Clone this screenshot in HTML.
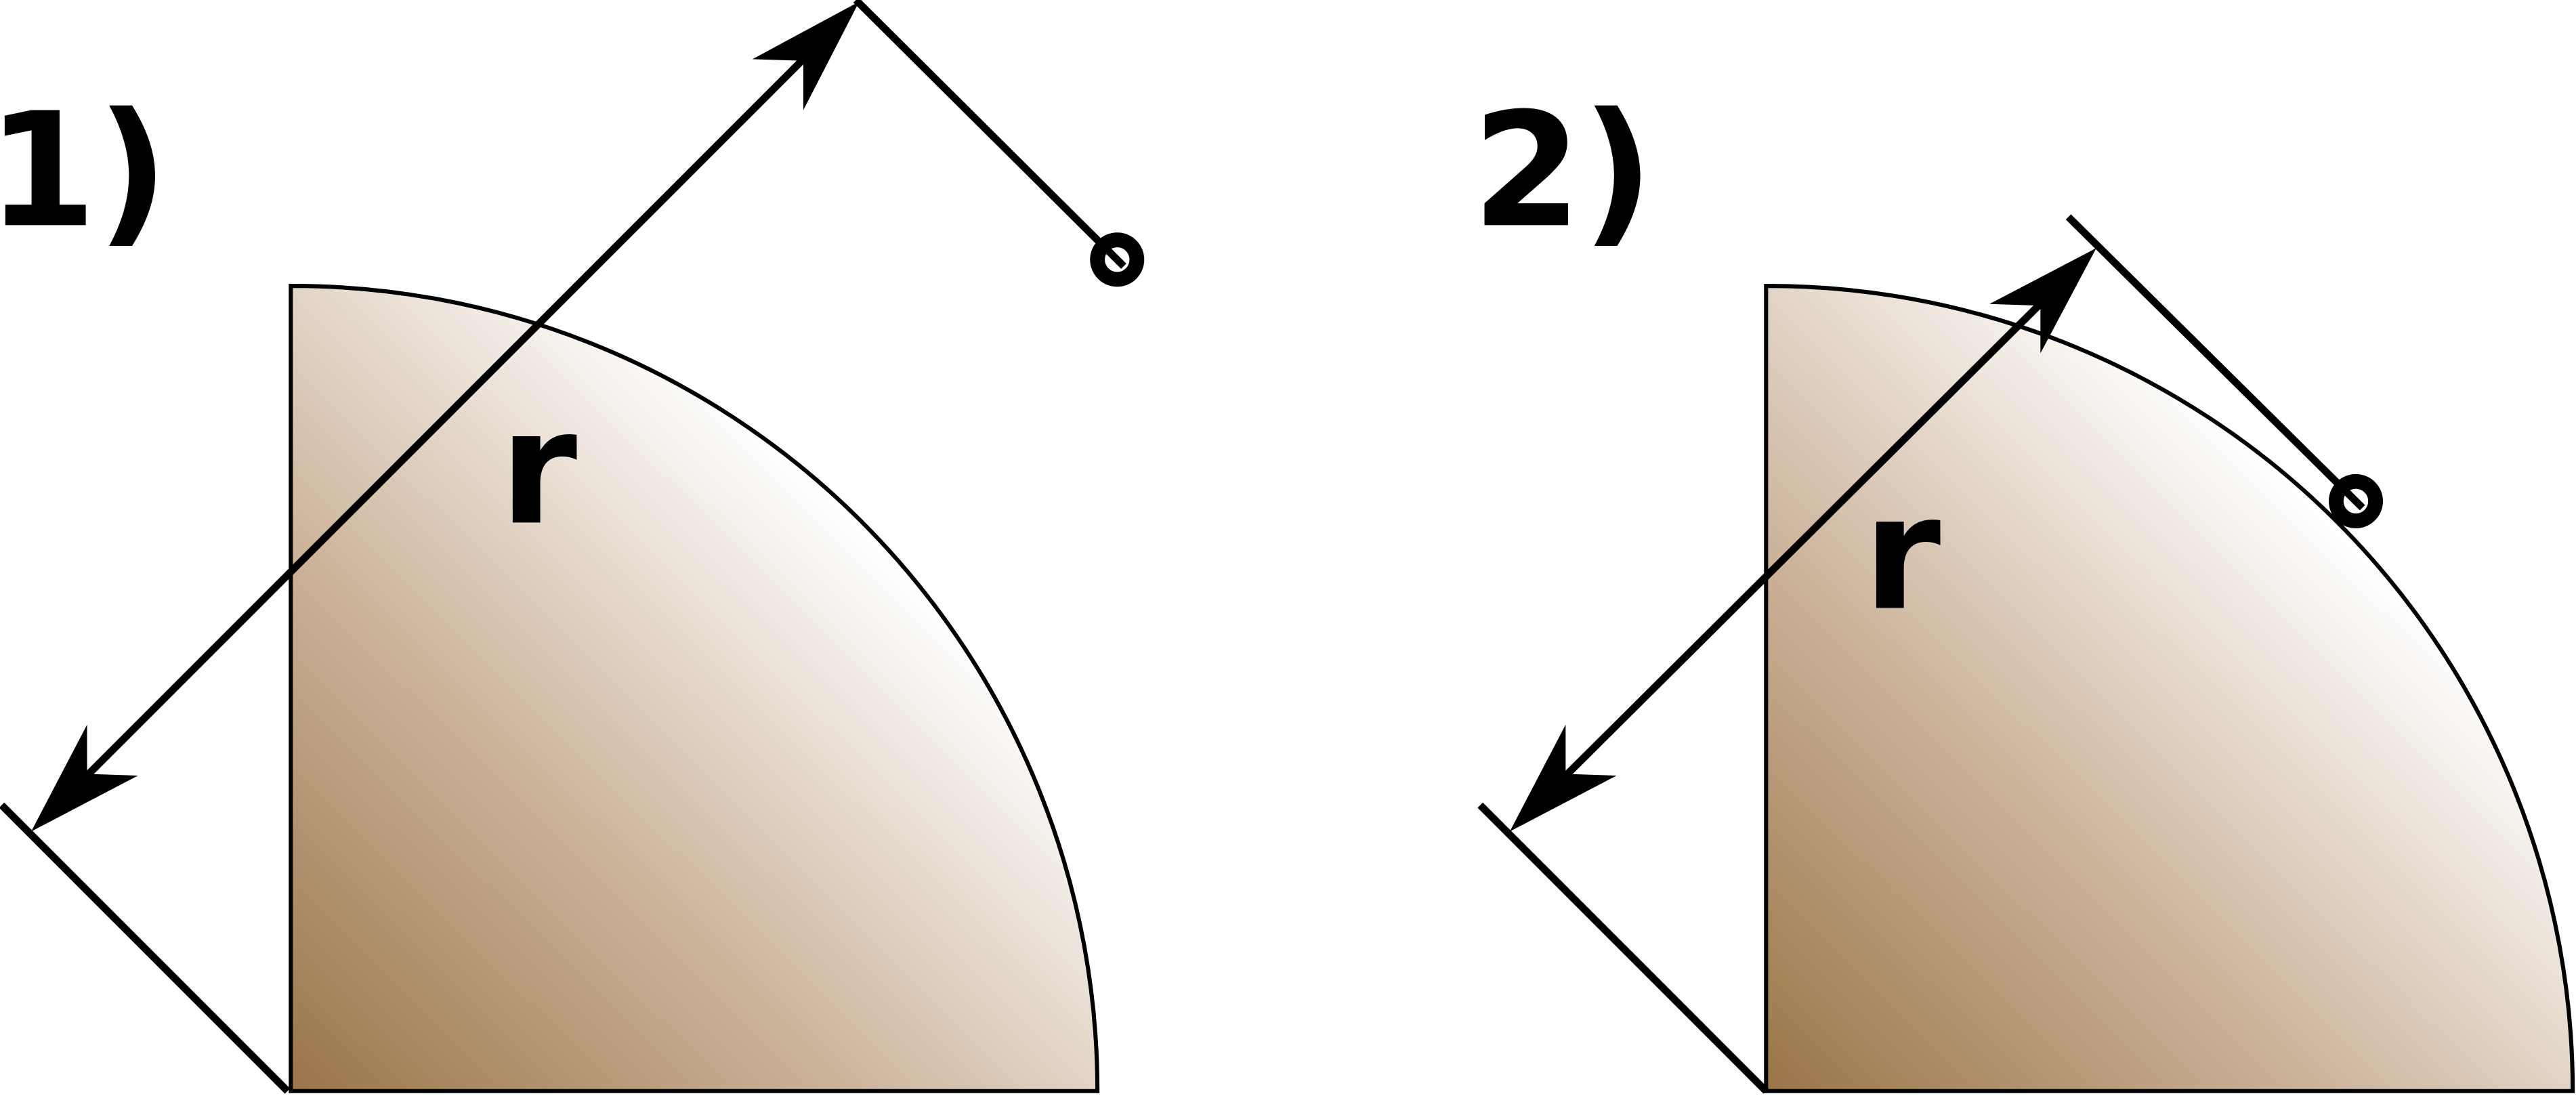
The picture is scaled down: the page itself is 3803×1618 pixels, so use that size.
<!DOCTYPE html>
<html>
<head>
<meta charset="utf-8">
<style>
html,body{margin:0;padding:0;background:#fff;}
svg{display:block;}
text{font-family:"DejaVu Sans","Liberation Sans",sans-serif;font-weight:bold;fill:#000;}
</style>
</head>
<body>
<svg width="3803" height="1618" viewBox="0 0 1568 667" preserveAspectRatio="none" xmlns="http://www.w3.org/2000/svg">
<defs>
<linearGradient id="g1" gradientUnits="userSpaceOnUse" x1="177" y1="664" x2="520" y2="318">
<stop offset="0" stop-color="#9a7447"/>
<stop offset="0.5" stop-color="#cdb59c"/>
<stop offset="1" stop-color="#ffffff"/>
</linearGradient>
<linearGradient id="g2" gradientUnits="userSpaceOnUse" x1="1075" y1="664" x2="1418" y2="318">
<stop offset="0" stop-color="#9a7447"/>
<stop offset="0.5" stop-color="#cdb59c"/>
<stop offset="1" stop-color="#ffffff"/>
</linearGradient>
</defs>

<g>
<path d="M177,664 L177,174 A490,490 0 0 1 668,664 Z" fill="url(#g1)" stroke="#000" stroke-width="2.5"/>
<line x1="1" y1="490" x2="175" y2="664" stroke="#000" stroke-width="4.5"/>
<line x1="30" y1="495" x2="512" y2="13" stroke="#000" stroke-width="4.5"/>
<polygon points="523,1 458,36 489,37 489,67" fill="#000"/>
<polygon points="19,506 84,472 53,471 53,441" fill="#000"/>
<line x1="521" y1="0" x2="684" y2="162" stroke="#000" stroke-width="4.5"/>
<circle cx="680" cy="158" r="12" fill="none" stroke="#000" stroke-width="9"/>
<text x="-8" y="137" font-size="96">1)</text>
<text x="304" y="318" font-size="96">r</text>
</g>

<g>
<path d="M1075,664 L1075,174 A490,490 0 0 1 1566,664 Z" fill="url(#g2)" stroke="#000" stroke-width="2.5"/>
<line x1="901" y1="490" x2="1075" y2="664" stroke="#000" stroke-width="4.5"/>
<line x1="930" y1="495" x2="1265" y2="162" stroke="#000" stroke-width="4.5"/>
<polygon points="1276,151 1211,185 1242,186 1242,215" fill="#000"/>
<polygon points="919,506 984,472 953,471 953,441" fill="#000"/>
<line x1="1259" y1="132" x2="1438" y2="309" stroke="#000" stroke-width="4.5"/>
<circle cx="1434" cy="305" r="12" fill="none" stroke="#000" stroke-width="9"/>
<text x="896" y="137" font-size="96">2)</text>
<text x="1134" y="370" font-size="96">r</text>
</g>
</svg>
</body>
</html>
